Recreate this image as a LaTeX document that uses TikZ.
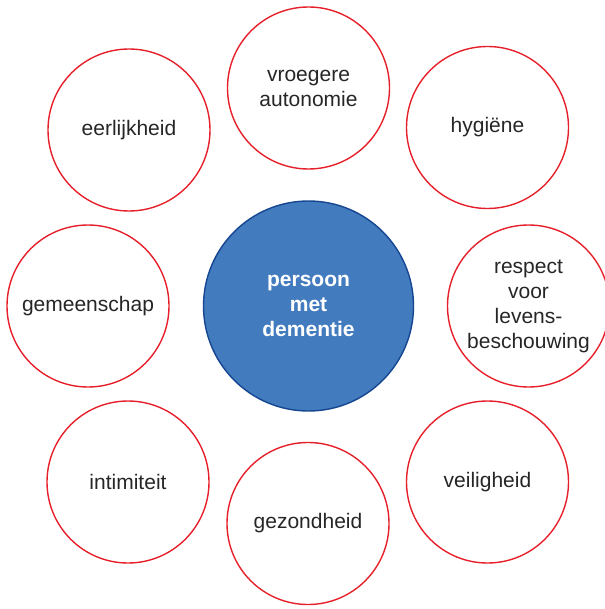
\documentclass[tikz,border=0pt]{standalone}
\usepackage{fontspec}
\setmainfont{Liberation Sans}
\usepackage{tikz}
\usetikzlibrary{positioning}
\definecolor{kernblauw}{RGB}{66,123,190}
\definecolor{kernrand}{RGB}{22,70,145}
\definecolor{waarderood}{RGB}{230,32,42}
\begin{document}
\begin{tikzpicture}[x=1pt,y=-1pt,
  kern/.style={circle,draw=kernrand,fill=kernblauw,line width=1.4pt,minimum size=210pt,inner sep=0pt,text=white,align=center,font=\fontsize{21}{25}\selectfont\bfseries},
  waarde/.style={circle,draw=waarderood,line width=1.4pt,minimum size=162pt,inner sep=0pt,align=center,text=black!85,font=\fontsize{21}{25}\selectfont}]
      \useasboundingbox (0,0) rectangle (604,609);
      \node[kern] (pmd) at (308.5,306) {persoon\\met\\dementie};

      \node[waarde] (autonomie) at (308.5,88) {vroegere\\autonomie};
      \node[waarde] (eerlijk) at (129,130) {eerlijkheid};
      \node[waarde] (hygiene) at (487.5,127.5) {hygiëne};
      \node[waarde] (gemeen) at (88,306) {gemeenschap};
      \node[waarde] (respect) at (528.5,306) {respect\\voor\\levens-\\beschouwing};
      \node[waarde] (intiem) at (128,482) {intimiteit};
      \node[waarde] (gezond) at (308,523.5) {gezondheid};
      \node[waarde] (veilig) at (487.5,482) {veiligheid};
    \end{tikzpicture}
\end{document}
